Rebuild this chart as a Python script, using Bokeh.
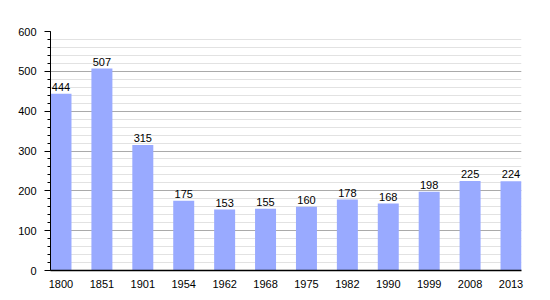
from bokeh.plotting import figure
from bokeh.models import ColumnDataSource, FixedTicker, Range1d, LabelSet
from bokeh.core.properties import value
from bokeh.embed import file_html
from bokeh.resources import INLINE

years = ["1800", "1851", "1901", "1954", "1962", "1968", "1975", "1982", "1990", "1999", "2008", "2013"]
population = [444, 507, 315, 175, 153, 155, 160, 178, 168, 198, 225, 224]

xs = list(range(len(years)))
src = ColumnDataSource(dict(x=xs, top=population, label=[str(v) for v in population]))

bw = 0.513
p = figure(width=550, height=300, output_backend="svg", toolbar_location=None,
           x_range=Range1d(-bw / 2, len(years) - 1 + bw / 2), y_range=Range1d(0, 600),
           min_border_left=50, min_border_right=29, min_border_top=31, min_border_bottom=30)
p.outline_line_color = None
p.background_fill_color = "white"

p.vbar(x="x", top="top", width=bw, source=src, fill_color="#99aaff", line_color=None)

labels = LabelSet(x="x", y="top", text="label", source=src, text_align="center",
                  text_baseline="bottom", y_offset=3, text_font=value("Liberation Sans"),
                  text_font_size=value("11px"), text_color="black")
p.add_layout(labels)

p.xaxis.ticker = FixedTicker(ticks=xs)
p.xaxis.major_label_overrides = {i: y for i, y in enumerate(years)}
p.xaxis.major_tick_line_color = None
p.xaxis.minor_tick_line_color = None
p.xaxis.axis_line_color = "black"
p.xaxis.axis_line_width = 1.5
p.xaxis.major_label_text_font = "Liberation Sans"
p.xaxis.major_label_text_font_size = "11px"
p.xaxis.major_label_text_color = "black"
p.xaxis.major_label_standoff = 3

p.yaxis.ticker = FixedTicker(ticks=list(range(0, 601, 100)), minor_ticks=list(range(0, 601, 20)))
p.yaxis.axis_line_color = "black"
p.yaxis.major_tick_out = 6
p.yaxis.major_tick_in = 0
p.yaxis.minor_tick_out = 3
p.yaxis.minor_tick_in = 0
p.yaxis.major_label_text_font = "Liberation Sans"
p.yaxis.major_label_text_font_size = "11px"
p.yaxis.major_label_text_color = "black"
p.yaxis.major_label_standoff = 8

p.xgrid.grid_line_color = None
p.ygrid.grid_line_color = "#aaaaaa"
p.ygrid.minor_grid_line_color = "#e2e2e2"
p.ygrid.level = "underlay"

open("out.html", "w").write(file_html(p, INLINE))
